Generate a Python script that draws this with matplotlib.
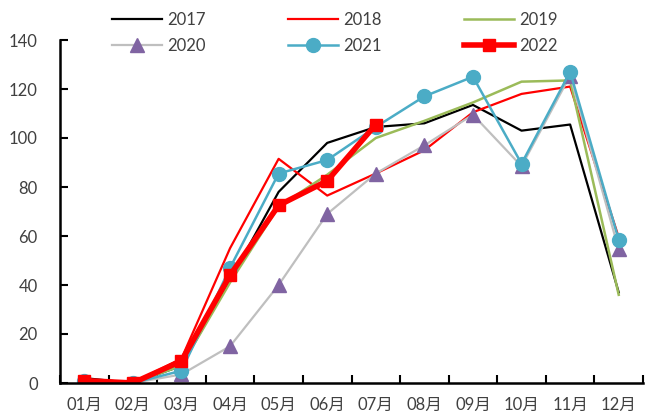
import matplotlib
matplotlib.use("Agg")
import matplotlib.pyplot as plt

plt.rcParams['font.family'] = ['Lato', 'Noto Sans CJK SC', 'DejaVu Sans']

months = ["01月", "02月", "03月", "04月", "05月", "06月",
          "07月", "08月", "09月", "10月", "11月", "12月"]

y2017 = [2, 0, 7, 42, 78, 98, 104.5, 106, 113.5, 103, 105.5, 37]
y2018 = [1, 0, 10, 55, 91.5, 76.5, 85.5, 95, 110.5, 118, 121, 59.5]
y2019 = [1, 0, 7, 41, 72, 85, 100, 107, 114.5, 123, 123.5, 36]
y2020 = [1, 0, 3.5, 15, 40, 69, 85.5, 97, 109.5, 88.5, 125.5, 54.5]
y2021 = [1, 0, 5, 47, 85.5, 91, 104.5, 117, 125, 89.5, 127, 58.5]
y2022 = [1, 0, 9, 44, 72.5, 82.5, 105.5]

fig = plt.figure(figsize=(6.45, 4.18), dpi=100)
ax = fig.add_axes([60/645, 35/418, 583/645, 343/418])

x = list(range(len(months)))
l17, = ax.plot(x, y2017, color="black", lw=1.6, label="2017")
l18, = ax.plot(x, y2018, color="#FF0000", lw=1.6, label="2018")
l19, = ax.plot(x, y2019, color="#9BBB59", lw=1.8, label="2019")
l20, = ax.plot(x, y2020, color="#BFBFBF", lw=1.6, marker="^", ms=10,
               mfc="#8064A2", mec="#8064A2", label="2020")
l21, = ax.plot(x, y2021, color="#4BACC6", lw=1.8, marker="o", ms=10,
               mfc="#4BACC6", mec="#4BACC6", label="2021")
l22, = ax.plot(x[:len(y2022)], y2022, color="#FF0000", lw=4, marker="s", ms=9,
               mfc="#FF0000", mec="#FF0000", label="2022")

ax.set_xlim(-0.5, 11.5)
ax.set_ylim(0, 140)
ax.set_yticks(range(0, 141, 20))
# tick marks between categories, labels at the centres
ax.set_xticks([i + 0.5 for i in range(-1, 12)])
ax.set_xticklabels([])
ax.set_xticks(x, minor=True)
ax.set_xticklabels(months, minor=True)
ax.tick_params(axis="x", which="major", direction="in", length=6, width=1.5)
ax.tick_params(axis="x", which="minor", length=0, pad=10, labelsize=12,
               labelcolor="#404040")
ax.tick_params(axis="y", direction="in", length=6, width=1.5, pad=16,
               labelsize=12, labelcolor="#404040")

for s in ["top", "right"]:
    ax.spines[s].set_visible(False)
for s in ["left", "bottom"]:
    ax.spines[s].set_linewidth(1.8)

handles = [l17, l20, l18, l21, l19, l22]
fig.legend(handles, [h.get_label() for h in handles], ncol=3, frameon=False,
           loc="center", bbox_to_anchor=(335/645, 1 - 33/418),
           fontsize=12, handlelength=3.0, handletextpad=0.35,
           columnspacing=4.9, labelspacing=0.6, borderpad=0,
           labelcolor="#404040")

fig.savefig("out.png", dpi=100)
